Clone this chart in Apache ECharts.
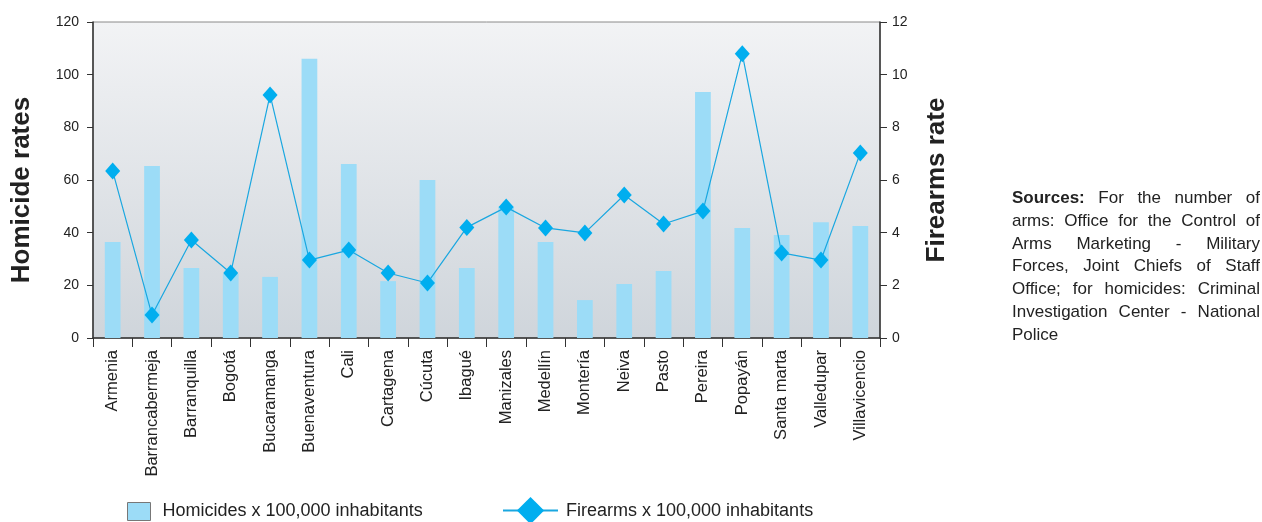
<!DOCTYPE html>
<html>
<head>
<meta charset="utf-8">
<script src="https://cdn.jsdelivr.net/npm/echarts@6/dist/echarts.min.js"></script>
<style>
  html, body { margin: 0; padding: 0; background: #fff; }
  #chart { width: 1262px; height: 522px; }
  #sources {
    position: absolute; left: 1012px; top: 187px; width: 248px;
    font-family: "Liberation Sans", Arial, sans-serif; font-size: 17px;
    line-height: 22.8px; color: #222;
  }
  #sources span { display: block; text-align: justify; text-align-last: justify; white-space: nowrap; }
  #sources span.last { text-align-last: left; }
</style>
</head>
<body>
<div id="chart"></div>
<div id="sources">
  <span><b>Sources:</b> For the number of</span>
  <span>arms: Office for the Control of</span>
  <span>Arms Marketing - Military</span>
  <span>Forces, Joint Chiefs of Staff</span>
  <span>Office; for homicides: Criminal</span>
  <span>Investigation Center - National</span>
  <span class="last">Police</span>
</div>
<script>
// cities
var cities = ['Armenia', 'Barrancabermeja', 'Barranquilla', 'Bogotá', 'Bucaramanga', 'Buenaventura',
  'Cali', 'Cartagena', 'Cúcuta', 'Ibagué', 'Manizales', 'Medellín', 'Montería', 'Neiva', 'Pasto',
  'Pereira', 'Popayán', 'Santa marta', 'Valledupar', 'Villavicencio'];
// homicides x 100,000 inhabitants (left axis)
var homicides = [36.5, 65.3, 26.6, 24.3, 23.2, 106, 66.1, 21.6, 60, 26.6,
  49.8, 36.5, 14.4, 20.5, 25.4, 93.4, 41.8, 39.1, 44, 42.5];
// firearms x 100,000 inhabitants (right axis)
var firearms = [6.34, 0.87, 3.72, 2.47, 9.23, 2.96, 3.34, 2.47, 2.09, 4.2,
  4.97, 4.18, 3.99, 5.43, 4.33, 4.82, 10.79, 3.23, 2.96, 7.03];

var sans = '"Liberation Sans", Arial, sans-serif';

var myChart = echarts.init(document.getElementById('chart'));
var option = {
  animation: false,
  grid: {
    left: 93, right: 382, top: 22, bottom: 184,
    show: true,
    borderColor: '#8a8a8a', borderWidth: 1,
    backgroundColor: new echarts.graphic.LinearGradient(0, 0, 0, 1, [
      { offset: 0, color: '#f2f3f5' },
      { offset: 1, color: '#cfd5db' }
    ])
  },
  legend: [{
    left: 122, top: 497,
    itemWidth: 23, itemHeight: 18,
    textStyle: { fontFamily: sans, fontSize: 18, color: '#222', padding: [0, 0, 0, 7] },
    data: [{ name: 'Homicides x 100,000 inhabitants', icon: 'rect',
      itemStyle: { color: '#9cdcf7', borderColor: '#777', borderWidth: 1 } }]
  }, {
    left: 497, top: 492,
    itemWidth: 55, itemHeight: 34,
    textStyle: { fontFamily: sans, fontSize: 18, color: '#222', padding: [0, 0, 0, 3] },
    data: ['Firearms x 100,000 inhabitants']
  }],
  xAxis: {
    type: 'category',
    data: cities,
    axisLine: { lineStyle: { color: '#333', width: 1.5 } },
    axisTick: { show: true, interval: 0, length: 9, lineStyle: { color: '#333' } },
    axisLabel: { interval: 0, rotate: 90, margin: 12, fontFamily: sans, fontSize: 16.5, color: '#222' }
  },
  yAxis: [{
    type: 'value', min: 0, max: 120, interval: 20,
    name: 'Homicide rates', nameLocation: 'middle', nameGap: 58, nameRotate: 90,
    nameTextStyle: { fontFamily: sans, fontSize: 26, fontWeight: 'bold', color: '#222', padding: [0, 20, 0, 0] },
    axisLine: { show: true, lineStyle: { color: '#333', width: 1.5 } },
    axisTick: { show: true, length: 6, lineStyle: { color: '#333' } },
    axisLabel: { margin: 14, fontFamily: sans, fontSize: 14, color: '#222' },
    splitLine: { show: false }
  }, {
    type: 'value', min: 0, max: 12, interval: 2,
    name: 'Firearms rate', nameLocation: 'middle', nameGap: 44, nameRotate: 90,
    nameTextStyle: { fontFamily: sans, fontSize: 26, fontWeight: 'bold', color: '#222' },
    axisLine: { show: true, lineStyle: { color: '#333', width: 1.5 } },
    axisTick: { show: true, length: 7, lineStyle: { color: '#333' } },
    axisLabel: { margin: 12, fontFamily: sans, fontSize: 14, color: '#222' },
    splitLine: { show: false }
  }],
  series: [{
    name: 'Homicides x 100,000 inhabitants',
    type: 'bar',
    data: homicides,
    barWidth: '40%',
    itemStyle: { color: '#9cdcf7' }
  }, {
    name: 'Firearms x 100,000 inhabitants',
    type: 'line',
    yAxisIndex: 1,
    data: firearms,
    symbol: 'diamond',
    symbolSize: [15, 17],
    lineStyle: { color: '#1aa7e0', width: 1.2 },
    itemStyle: { color: '#00aeef' }
  }]
};
myChart.setOption(option);
</script>
</body>
</html>
